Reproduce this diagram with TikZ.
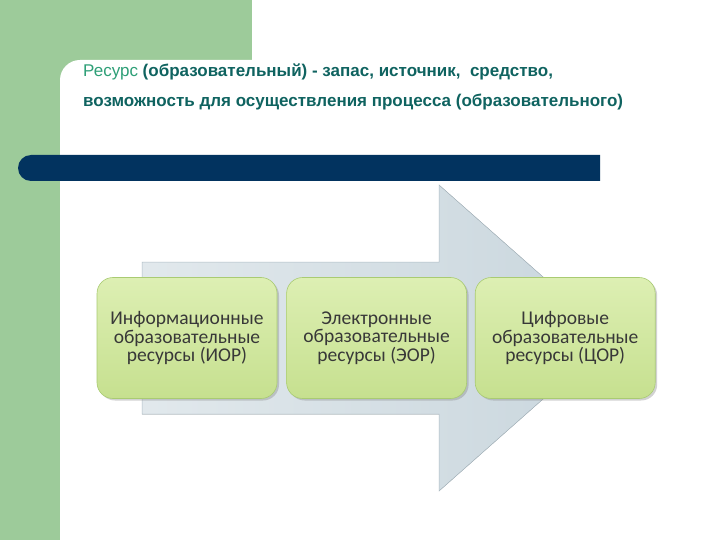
\documentclass[tikz,border=0pt]{standalone}
\usepackage{fontspec}
\setmainfont{Liberation Sans}
\newfontfamily\boxfont{Carlito}
\usetikzlibrary{%
  positioning,% wg. " of "
  shadows%
}
\definecolor{bandgreen}{HTML}{9DCB9A}
\definecolor{barnavy}{HTML}{02335F}
\definecolor{titleteal}{HTML}{0F6360}
\definecolor{wordgreen}{HTML}{2E9F77}
\definecolor{arrowgray}{HTML}{C9D6DD}
\definecolor{arrowline}{HTML}{AEBDC5}
\definecolor{boxtop}{HTML}{DDEFB3}
\definecolor{boxbottom}{HTML}{C6E08F}
\definecolor{boxline}{HTML}{A9CB72}

\begin{document}
\begin{tikzpicture}[x=1pt,y=-1pt,
    res/.style={rectangle, rounded corners=16pt, draw=boxline, line width=0.6pt,
      top color=boxtop, bottom color=boxbottom, minimum width=180pt, minimum height=121pt,
      align=center, text=black!78, font=\boxfont\fontsize{19.5}{18.5}\selectfont,
      drop shadow={shadow xshift=2pt, shadow yshift=-2pt, opacity=0.35}},
    title/.style={anchor=base west, inner sep=0pt, text=titleteal,
      font=\bfseries\fontsize{17}{19}\selectfont}]
  \useasboundingbox (0,0) rectangle (720,540);
  \fill[white] (0,0) rectangle (720,540);

  %green band
  \fill[bandgreen] (0,0) rectangle (252,80);
  \fill[bandgreen] (0,0) rectangle (80,540);
  \fill[white] (60,540) -- (60,80) arc[start angle=180, end angle=270, radius=20]
    -- (720,60) -- (720,540) -- cycle;

  %heading
  \node[title] (line1) at (83,77) {{\mdseries\color{wordgreen}Ресурс} (образовательный) - запас, источник,\ \ средство,};
  \node[title] (line2) at (83,107) {возможность для осуществления процесса (образовательного)};

  %navy bar
  \fill[barnavy] (600,155) -- (31,155) arc[start angle=270, end angle=90, radius=13]
    -- (600,181) -- cycle;

  %big arrow
  \filldraw[draw=arrowline, line width=0.5pt, left color=arrowgray!55!white, right color=arrowgray]
    (142,262) -- (439,262) -- (439,185) -- (612,338) -- (439,491) -- (439,414) -- (142,414) -- cycle;

  %resource boxes
  \node[res] (ior) at (187,338) {Информационные\\образовательные\\ресурсы (ИОР)};
  \node[res] (eor) [right=9pt of ior] {Электронные\\образовательные\\ресурсы (ЭОР)};
  \node[res] (cor) [right=8pt of eor] {Цифровые\\образовательные\\ресурсы (ЦОР)};
\end{tikzpicture}
\end{document}
